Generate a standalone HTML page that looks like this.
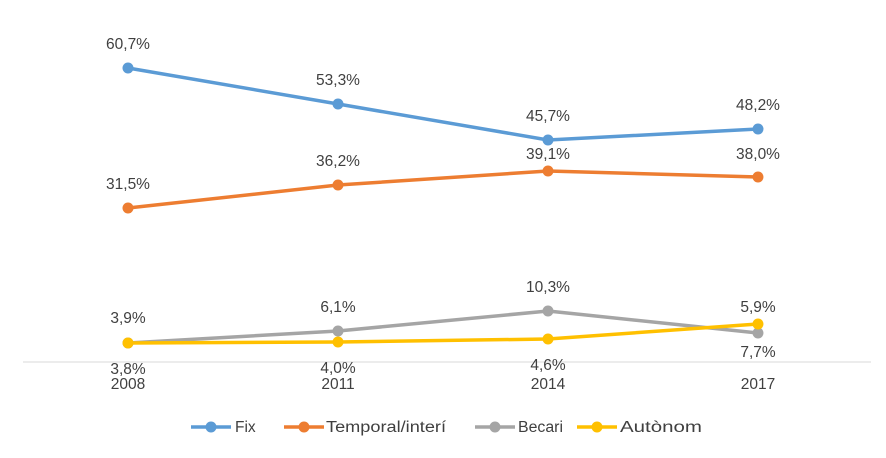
<html><body style="margin:0;background:#fff">
<svg width="886" height="458" xmlns="http://www.w3.org/2000/svg" font-family="Liberation Sans, sans-serif" font-size="15.5" fill="#404040">
<line x1="23" y1="362" x2="871" y2="362" stroke="#d9d9d9" stroke-width="1"/>
<g fill="none" stroke-width="3.5" stroke-linejoin="round">
<polyline points="128,68 338,104 548,140 758,129" stroke="#5b9bd5"/>
<polyline points="128,208 338,185 548,171 758,177" stroke="#ed7d31"/>
<polyline points="128,343 338,331 548,311 758,333" stroke="#a5a5a5"/>
<polyline points="128,343 338,342 548,339 758,324" stroke="#ffc000"/>
</g>
<g fill="#5b9bd5"><circle cx="128" cy="68" r="5.5"/><circle cx="338" cy="104" r="5.5"/><circle cx="548" cy="140" r="5.5"/><circle cx="758" cy="129" r="5.5"/></g>
<g fill="#ed7d31"><circle cx="128" cy="208" r="5.5"/><circle cx="338" cy="185" r="5.5"/><circle cx="548" cy="171" r="5.5"/><circle cx="758" cy="177" r="5.5"/></g>
<g fill="#a5a5a5"><circle cx="128" cy="343" r="5.5"/><circle cx="338" cy="331" r="5.5"/><circle cx="548" cy="311" r="5.5"/><circle cx="758" cy="333" r="5.5"/></g>
<g fill="#ffc000"><circle cx="128" cy="343" r="5.5"/><circle cx="338" cy="342" r="5.5"/><circle cx="548" cy="339" r="5.5"/><circle cx="758" cy="324" r="5.5"/></g>
<g text-anchor="middle">
<text x="128" y="49">60,7%</text><text x="338" y="85">53,3%</text><text x="548" y="121">45,7%</text><text x="758" y="110">48,2%</text>
<text x="128" y="189">31,5%</text><text x="338" y="166">36,2%</text><text x="548" y="159">39,1%</text><text x="758" y="159">38,0%</text>
<text x="128" y="323">3,9%</text><text x="338" y="312">6,1%</text><text x="548" y="292">10,3%</text><text x="758" y="312">5,9%</text>
<text x="128" y="374">3,8%</text><text x="338" y="373">4,0%</text><text x="548" y="370">4,6%</text><text x="758" y="357">7,7%</text>
<text x="128" y="389">2008</text><text x="338" y="389">2011</text><text x="548" y="389">2014</text><text x="758" y="389">2017</text>
</g>
<g stroke-width="3.5">
<line x1="191" y1="427" x2="231" y2="427" stroke="#5b9bd5"/><circle cx="211" cy="427" r="5.5" fill="#5b9bd5"/>
<line x1="284" y1="427" x2="324" y2="427" stroke="#ed7d31"/><circle cx="304" cy="427" r="5.5" fill="#ed7d31"/>
<line x1="475" y1="427" x2="515" y2="427" stroke="#a5a5a5"/><circle cx="495" cy="427" r="5.5" fill="#a5a5a5"/>
<line x1="577" y1="427" x2="617" y2="427" stroke="#ffc000"/><circle cx="597" cy="427" r="5.5" fill="#ffc000"/>
</g>
<text x="235" y="432">Fix</text>
<text x="326" y="432" textLength="120" lengthAdjust="spacingAndGlyphs">Temporal/interí</text>
<text x="518" y="432" textLength="45" lengthAdjust="spacingAndGlyphs">Becari</text>
<text x="620" y="432" textLength="82" lengthAdjust="spacingAndGlyphs">Autònom</text>
</svg>
</body></html>
